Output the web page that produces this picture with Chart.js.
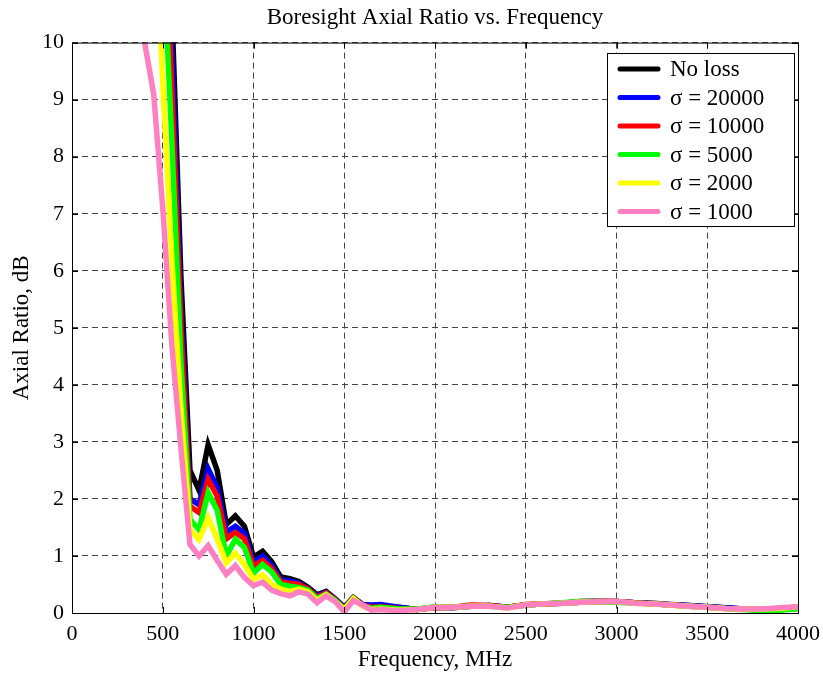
<!DOCTYPE html>
<html>
<head>
<meta charset="utf-8">
<script src="https://cdn.jsdelivr.net/npm/chart.js@4"></script>
<style>
  body { margin: 0; background: #fff; }
  #wrap { width: 823px; height: 680px; }
</style>
</head>
<body>
<div id="wrap"><canvas id="chart" width="823" height="680"></canvas></div>
<script>
// frequency samples, MHz
const freq = [400, 450, 500, 550, 600, 650, 700, 750, 800, 850, 900, 950, 1000, 1050, 1100, 1150, 1200, 1250, 1300, 1350,
  1400, 1450, 1500, 1550, 1600, 1650, 1700, 1800, 1900, 2000, 2100, 2200, 2300, 2400, 2500, 2600, 2700, 2800, 2900, 3000,
  3100, 3200, 3300, 3400, 3500, 3600, 3700, 3800, 3900, 4000];

// axial ratio, dB
const noLoss = [26, 21, 15.5, 10.6, 5.9, 2.5, 2.15, 2.95, 2.5, 1.55, 1.7, 1.52, 0.98, 1.08, 0.9, 0.63, 0.6, 0.55, 0.45, 0.32,
  0.38, 0.25, 0.1, 0.27, 0.15, 0.1, 0.12, 0.1, 0.06, 0.1, 0.09, 0.12, 0.13, 0.1, 0.14, 0.16, 0.17, 0.2, 0.21, 0.2,
  0.18, 0.17, 0.15, 0.13, 0.11, 0.09, 0.07, 0.06, 0.07, 0.08];
const sigma20000 = [24, 19, 14, 9.9, 5.3, 2.0, 1.9, 2.53, 2.2, 1.42, 1.52, 1.4, 0.88, 1.0, 0.83, 0.58, 0.56, 0.52, 0.43, 0.3,
  0.36, 0.24, 0.09, 0.27, 0.15, 0.14, 0.15, 0.1, 0.06, 0.1, 0.1, 0.12, 0.13, 0.1, 0.14, 0.16, 0.17, 0.19, 0.2, 0.2,
  0.18, 0.16, 0.14, 0.13, 0.11, 0.09, 0.07, 0.07, 0.08, 0.1];
const sigma10000 = [22, 17, 13, 9.2, 5.0, 1.87, 1.76, 2.34, 2.05, 1.3, 1.41, 1.3, 0.82, 0.92, 0.78, 0.55, 0.52, 0.5, 0.42, 0.28,
  0.35, 0.23, 0.08, 0.27, 0.14, 0.1, 0.11, 0.08, 0.06, 0.09, 0.1, 0.14, 0.13, 0.1, 0.15, 0.16, 0.17, 0.19, 0.2, 0.2,
  0.18, 0.16, 0.14, 0.12, 0.1, 0.08, 0.07, 0.06, 0.07, 0.1];
const sigma5000 = [20, 15, 11.7, 8.3, 4.4, 1.64, 1.46, 2.11, 1.8, 1.0, 1.29, 1.15, 0.7, 0.85, 0.72, 0.5, 0.47, 0.45, 0.4, 0.25,
  0.33, 0.22, 0.07, 0.26, 0.13, 0.08, 0.1, 0.07, 0.07, 0.11, 0.1, 0.12, 0.12, 0.1, 0.14, 0.16, 0.18, 0.2, 0.2, 0.19,
  0.17, 0.16, 0.14, 0.12, 0.1, 0.08, 0.06, 0.04, 0.05, 0.08];
const sigma2000 = [17, 13, 9.3, 6.2, 3.6, 1.46, 1.29, 1.67, 1.3, 0.88, 1.05, 0.85, 0.59, 0.67, 0.5, 0.42, 0.38, 0.42, 0.37, 0.22,
  0.32, 0.2, 0.06, 0.25, 0.12, 0.06, 0.07, 0.05, 0.06, 0.1, 0.1, 0.12, 0.12, 0.09, 0.14, 0.16, 0.17, 0.19, 0.2, 0.2,
  0.17, 0.16, 0.14, 0.12, 0.1, 0.08, 0.07, 0.07, 0.08, 0.11];
const sigma1000 = [10.0, 9.1, 7.1, 4.7, 2.9, 1.2, 1.0, 1.18, 0.92, 0.68, 0.83, 0.62, 0.48, 0.54, 0.4, 0.34, 0.3, 0.37, 0.33, 0.18,
  0.3, 0.2, 0.02, 0.22, 0.14, 0.05, 0.06, 0.04, 0.06, 0.1, 0.1, 0.12, 0.12, 0.09, 0.14, 0.16, 0.17, 0.19, 0.2, 0.2,
  0.17, 0.16, 0.14, 0.12, 0.1, 0.08, 0.07, 0.07, 0.09, 0.11];

const seriesNames = ['No loss', 'σ = 20000', 'σ = 10000', 'σ = 5000', 'σ = 2000', 'σ = 1000'];
const seriesColors = ['#000000', '#0000ff', '#ff0000', '#00ff00', '#ffff00', '#ff80c0'];
const allSeries = [noLoss, sigma20000, sigma10000, sigma5000, sigma2000, sigma1000];

const xTicks = [0, 500, 1000, 1500, 2000, 2500, 3000, 3500, 4000];
const yTicks = [0, 1, 2, 3, 4, 5, 6, 7, 8, 9, 10];

const serif = "'Liberation Serif', 'Times New Roman', serif";
Chart.defaults.color = '#000';
Chart.defaults.font.family = serif;

// matlab look: full box, inward ticks, legend inside the axes
const matlabAxes = {
  id: 'matlabAxes',
  afterDraw(chart) {
    const { ctx, chartArea: a, scales } = chart;
    ctx.save();
    ctx.setLineDash([]);
    ctx.strokeStyle = '#000';
    ctx.lineWidth = 1;
    ctx.beginPath();
    xTicks.forEach(v => {
      const px = Math.round(scales.x.getPixelForValue(v)) + 0.5;
      ctx.moveTo(px, a.bottom); ctx.lineTo(px, a.bottom - 6);
      ctx.moveTo(px, a.top); ctx.lineTo(px, a.top + 6);
    });
    yTicks.forEach(v => {
      const py = Math.round(scales.y.getPixelForValue(v)) + 0.5;
      ctx.moveTo(a.left, py); ctx.lineTo(a.left + 6, py);
      ctx.moveTo(a.right, py); ctx.lineTo(a.right - 6, py);
    });
    ctx.stroke();
    ctx.strokeRect(a.left + 0.5, a.top + 0.5, a.right - a.left, a.bottom - a.top);

    // legend box
    const bx = 607.5, by = 53.5, bw = 187, bh = 173;
    ctx.fillStyle = '#fff';
    ctx.fillRect(bx, by, bw, bh);
    ctx.strokeRect(bx, by, bw, bh);
    ctx.font = '23px ' + serif;
    ctx.textBaseline = 'middle';
    ctx.textAlign = 'left';
    chart.data.datasets.forEach((ds, i) => {
      const yy = 69 + i * 28.5;
      ctx.strokeStyle = ds.borderColor;
      ctx.lineWidth = 5;
      ctx.lineCap = 'round';
      ctx.beginPath();
      ctx.moveTo(620, yy); ctx.lineTo(658, yy);
      ctx.stroke();
      ctx.fillStyle = '#000';
      ctx.fillText(ds.label, 670, yy + 1);
    });
    ctx.restore();
  }
};

new Chart(document.getElementById('chart'), {
  type: 'line',
  data: {
    datasets: allSeries.map((vals, i) => ({
      label: seriesNames[i],
      data: freq.map((f, j) => ({ x: f, y: vals[j] })),
      borderColor: seriesColors[i],
      backgroundColor: seriesColors[i],
      borderWidth: 5.5,
      pointRadius: 0,
      tension: 0,
      clip: 0,
      order: allSeries.length - i
    }))
  },
  options: {
    responsive: false,
    animation: false,
    layout: { padding: { right: 25 } },
    plugins: {
      legend: { display: false },
      tooltip: { enabled: false },
      title: {
        display: true,
        fullSize: false,
        text: 'Boresight Axial Ratio vs. Frequency',
        font: { size: 23, weight: 'normal' },
        padding: { top: 4, bottom: 11 }
      }
    },
    scales: {
      x: {
        type: 'linear',
        min: 0,
        max: 4000,
        afterBuildTicks: s => { s.ticks = xTicks.map(v => ({ value: v })); },
        afterFit: s => { s.height = 67; s.paddingLeft = 0; s.paddingRight = 0; },
        ticks: { font: { size: 22 }, padding: 8, maxRotation: 0, callback: v => String(v) },
        grid: { color: '#444', lineWidth: 1, drawTicks: false, borderDash: [6, 4] },
        border: { display: false, dash: [6, 4] },
        title: { display: true, text: 'Frequency, MHz', font: { size: 23 }, padding: { top: 0, bottom: 6 } }
      },
      y: {
        type: 'linear',
        min: 0,
        max: 10,
        afterBuildTicks: s => { s.ticks = yTicks.map(v => ({ value: v })); },
        afterFit: s => { s.width = 72; },
        ticks: { font: { size: 22 }, padding: 8, callback: v => String(v) },
        grid: { color: '#444', lineWidth: 1, drawTicks: false, borderDash: [6, 4] },
        border: { display: false, dash: [6, 4] },
        title: { display: true, text: 'Axial Ratio, dB', font: { size: 23 }, padding: { top: 8, bottom: 0 } }
      }
    }
  },
  plugins: [matlabAxes]
});
</script>
</body>
</html>
